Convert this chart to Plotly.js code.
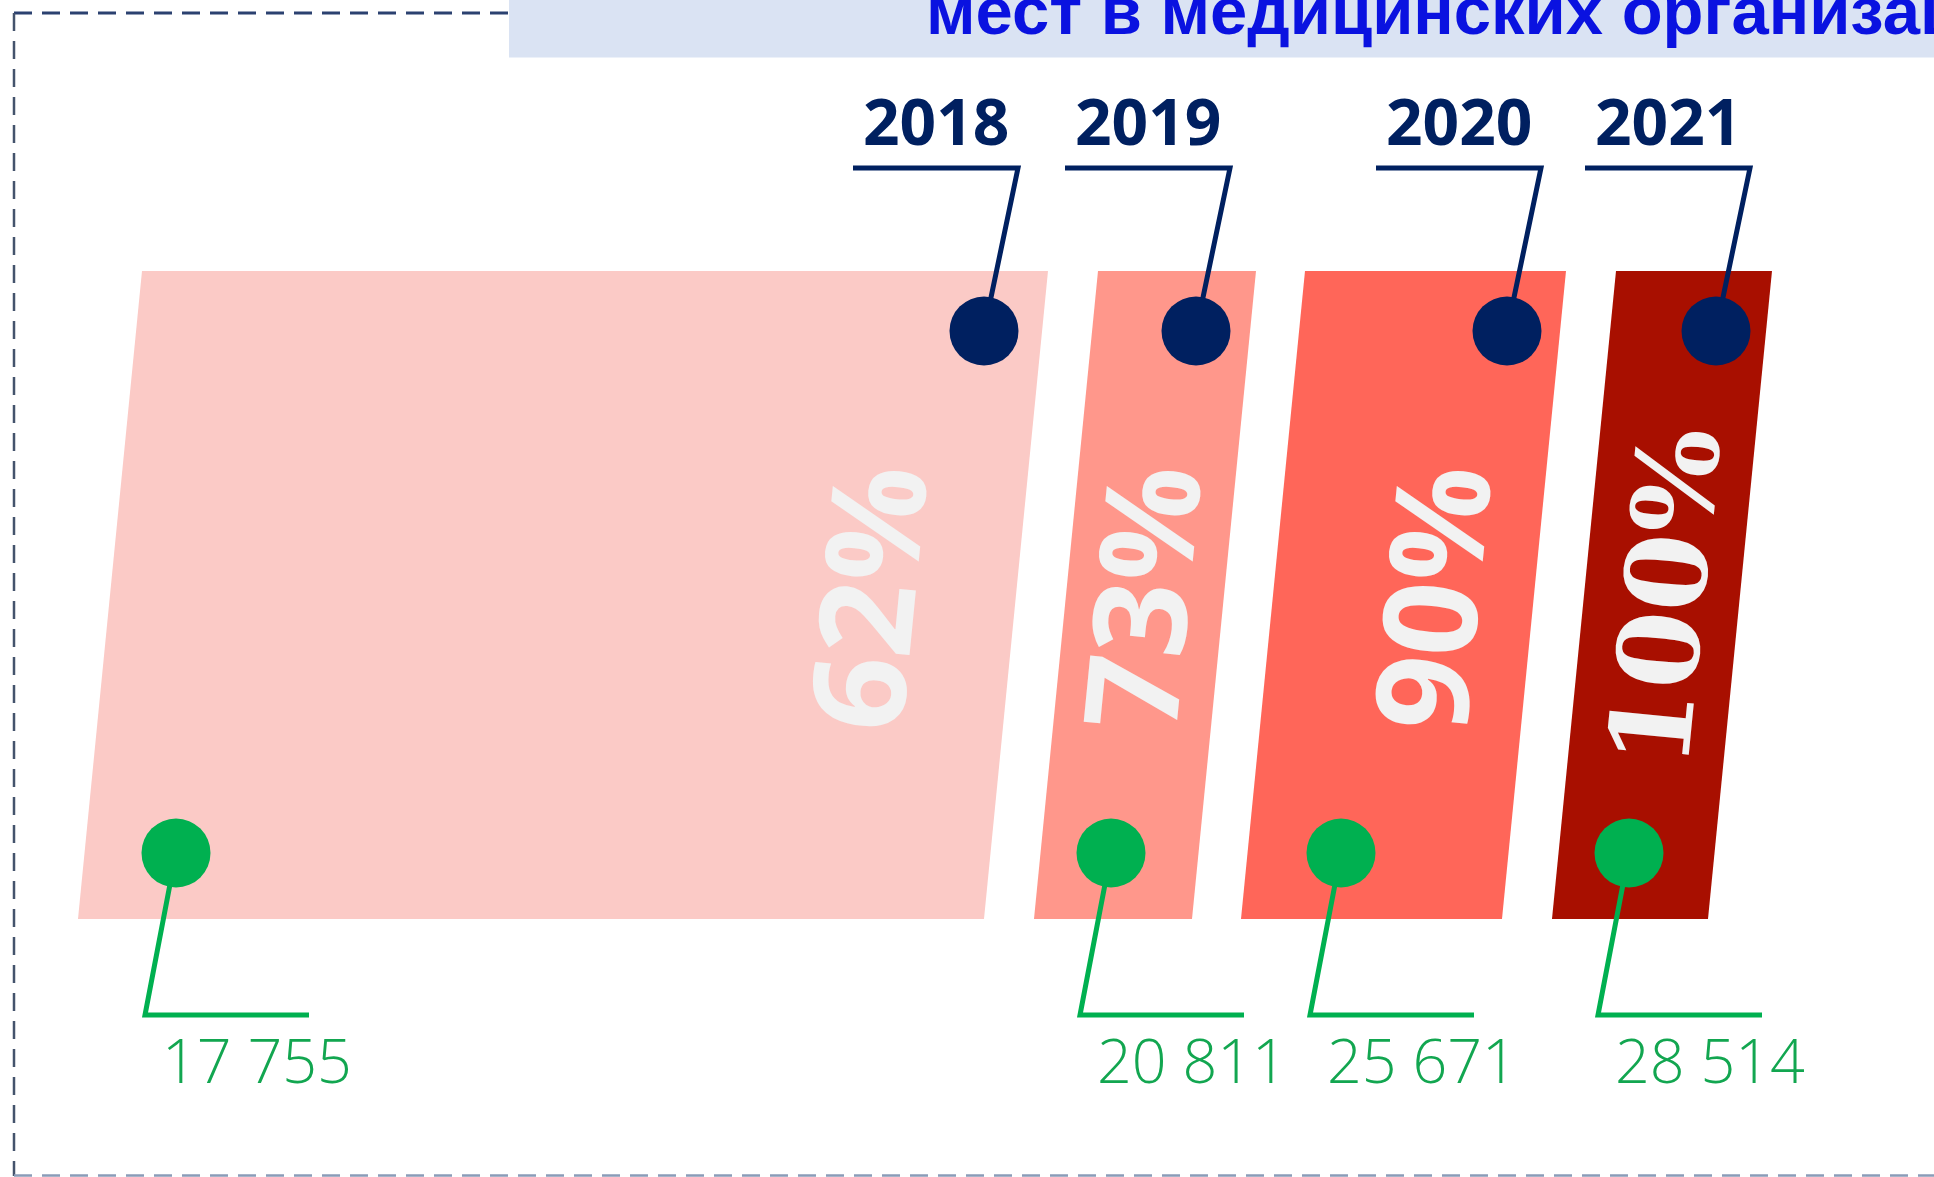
<!DOCTYPE html>
<html>
<head>
<meta charset="utf-8">
<script src="https://cdn.plot.ly/plotly-3.0.1.min.js"></script>
<style>
  html, body { margin: 0; padding: 0; background: #ffffff; overflow: hidden; }
  #chart { width: 1934px; height: 1177px; }
</style>
</head>
<body>
<div id="chart"></div>
<script>
// ---------------- data ----------------
const years = ['2018', '2019', '2020', '2021'];
const values = [17755, 20811, 25671, 28514];
const percents = [62, 73, 90, 100];
const titleText = 'мест в медицинских организациях';

// ---------------- styles ----------------
const barColors = ['#FBCAC6', '#FF978B', '#FF6659', '#A80F00'];
const navy = '#002060';
const green = '#00B050';
const greenText = '#12A650';
const pctColor = '#F2F2F2';
const pctFonts = ['Open Sans', 'Open Sans', 'Open Sans', 'DejaVu Serif'];
const pctSizes = [130, 130, 130, 112];

// ---------------- layout geometry (pixel space of the infographic) ----------------
const W = 1934, H = 1177;
const barTop = 271, barBottom = 919, barSlant = 64;
const barTopLeft = [142, 1098, 1305, 1616];
const barTopRight = [1048, 1256, 1566, 1772];
const pctX = [864, 1138, 1428, 1664], pctY = 597, pctAngle = -84.4;
const navyDotX = [984, 1196, 1507, 1716], navyDotY = 331;
const navyCornerDx = 34, navyLineY = 168, navyArm = 165;
const yearY = 120;
const greenDotX = [176, 1111, 1341, 1629], greenDotY = 853;
const greenCornerDx = -31, greenLineY = 1015, greenArm = 164;
const valueDx = 15, valueY = 1059;
const dotSize = 69, leaderWidth = 5;

const fmt = v => String(v).replace(/\B(?=(\d{3})+(?!\d))/g, ' ');

const traces = [];

// bars as slanted parallelograms
years.forEach((yr, i) => {
  const tl = barTopLeft[i], tr = barTopRight[i];
  traces.push({
    type: 'scatter', mode: 'lines', fill: 'toself',
    x: [tl, tr, tr - barSlant, tl - barSlant, tl],
    y: [barTop, barTop, barBottom, barBottom, barTop],
    fillcolor: barColors[i], line: { width: 0, color: barColors[i] },
    hoverinfo: 'skip', showlegend: false
  });
});

// navy leader lines
const nlx = [], nly = [];
navyDotX.forEach(x => {
  const cx = x + navyCornerDx;
  nlx.push(x, cx, cx - navyArm, null);
  nly.push(navyDotY, navyLineY, navyLineY, null);
});
traces.push({ type: 'scatter', mode: 'lines', x: nlx, y: nly,
  line: { color: navy, width: leaderWidth }, hoverinfo: 'skip', showlegend: false });

// green leader lines
const glx = [], gly = [];
greenDotX.forEach(x => {
  const cx = x + greenCornerDx;
  glx.push(x, cx, cx + greenArm, null);
  gly.push(greenDotY, greenLineY, greenLineY, null);
});
traces.push({ type: 'scatter', mode: 'lines', x: glx, y: gly,
  line: { color: green, width: leaderWidth }, hoverinfo: 'skip', showlegend: false });

// dots
traces.push({ type: 'scatter', mode: 'markers', x: navyDotX, y: navyDotX.map(() => navyDotY),
  marker: { color: navy, size: dotSize, line: { width: 0 } }, text: years, hoverinfo: 'text', showlegend: false });
traces.push({ type: 'scatter', mode: 'markers', x: greenDotX, y: greenDotX.map(() => greenDotY),
  marker: { color: green, size: dotSize, line: { width: 0 } }, text: values.map(fmt), hoverinfo: 'text', showlegend: false });

// annotations
const annotations = [];
percents.forEach((p, i) => {
  annotations.push({
    x: pctX[i], y: pctY, xref: 'x', yref: 'y', xanchor: 'center', yanchor: 'middle',
    text: '<b>' + p + '%</b>', showarrow: false, textangle: pctAngle,
    font: { family: pctFonts[i], size: pctSizes[i], color: pctColor }
  });
});
years.forEach((yr, i) => {
  annotations.push({
    x: navyDotX[i] + navyCornerDx - navyArm / 2, y: yearY, xref: 'x', yref: 'y',
    xanchor: 'center', yanchor: 'middle', text: '<b>' + yr + '</b>', showarrow: false,
    font: { family: 'Open Sans', size: 64, color: navy }
  });
});
values.forEach((v, i) => {
  annotations.push({
    x: greenDotX[i] + greenCornerDx + valueDx, y: valueY, xref: 'x', yref: 'y',
    xanchor: 'left', yanchor: 'middle', text: fmt(v), showarrow: false,
    font: { family: 'Open Sans', size: 61, color: greenText, weight: 300 }
  });
});
annotations.push({
  x: 924, y: 10, xref: 'x', yref: 'y', xanchor: 'left', yanchor: 'middle',
  text: '<b>' + titleText + '</b>', showarrow: false,
  font: { family: 'Liberation Sans, Arial', size: 67, color: '#0A12E0' }
});

const shapes = [
  { type: 'rect', xref: 'x', yref: 'y', x0: 509, x1: W, y0: 0, y1: 57.5,
    fillcolor: '#DAE3F3', line: { width: 0 }, layer: 'below' },
  { type: 'line', xref: 'x', yref: 'y', x0: 14, x1: 509, y0: 13, y1: 13,
    line: { color: '#2B4170', width: 3, dash: '18px,10px' }, layer: 'below' },
  { type: 'line', xref: 'x', yref: 'y', x0: 14, x1: 14, y0: 13, y1: 1176,
    line: { color: '#44536C', width: 2.5, dash: '18px,10px' }, layer: 'below' },
  { type: 'line', xref: 'x', yref: 'y', x0: 14, x1: W, y0: 1175.5, y1: 1175.5,
    line: { color: '#8A9CB8', width: 2.5, dash: '18px,10px' }, layer: 'below' }
];

const layout = {
  width: W, height: H, margin: { l: 0, r: 0, t: 0, b: 0 },
  paper_bgcolor: '#ffffff', plot_bgcolor: '#ffffff',
  xaxis: { range: [0, W], visible: false, fixedrange: true },
  yaxis: { range: [H, 0], visible: false, fixedrange: true },
  showlegend: false, annotations: annotations, shapes: shapes
};

Plotly.newPlot('chart', traces, layout, { staticPlot: true, displayModeBar: false });
</script>
</body>
</html>
